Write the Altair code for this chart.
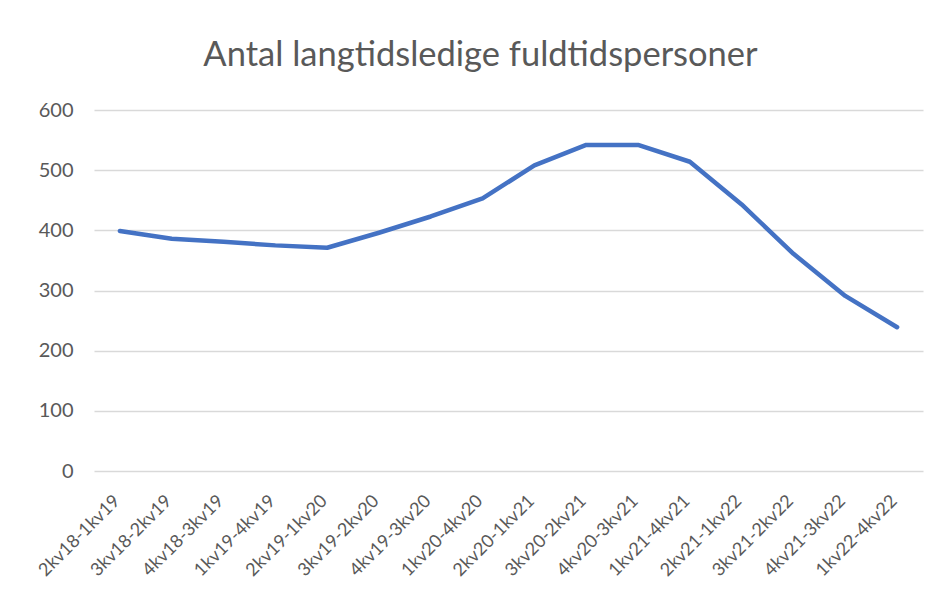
import altair as alt
import pandas as pd

periods = ["2kv18-1kv19", "3kv18-2kv19", "4kv18-3kv19", "1kv19-4kv19", "2kv19-1kv20",
           "3kv19-2kv20", "4kv19-3kv20", "1kv20-4kv20", "2kv20-1kv21", "3kv20-2kv21",
           "4kv20-3kv21", "1kv21-4kv21", "2kv21-1kv22", "3kv21-2kv22", "4kv21-3kv22",
           "1kv22-4kv22"]
values = [399, 386, 381, 375, 371, 396, 423, 453, 508, 542, 542, 514, 443, 361, 291, 239]

df = pd.DataFrame({"periode": periods, "antal": values})

FONT = "Lato"
GREY = "#595959"

chart = alt.Chart(df).mark_line(color="#4472C4", strokeWidth=4.5, strokeCap="round", strokeJoin="round").encode(
    x=alt.X("periode:N", sort=periods, title=None,
            scale=alt.Scale(type="point", padding=0.5),
            axis=alt.Axis(labelAngle=-45, labelAlign="right", labelBaseline="middle",
                          labelPadding=27, labelOffset=-3, ticks=False, domain=False, grid=False,
                          labelFontSize=18, labelColor=GREY, labelFont=FONT)),
    y=alt.Y("antal:Q", title=None,
            scale=alt.Scale(domain=[0, 600]),
            axis=alt.Axis(values=[0, 100, 200, 300, 400, 500, 600], ticks=False, domain=False,
                          gridColor="#d9d9d9", gridWidth=1.5, labelPadding=21,
                          labelFontSize=20, labelColor=GREY, labelFont=FONT)),
).properties(
    width=829, height=361,
    autosize=alt.AutoSizeParams(type="none"),
    padding={"left": 86, "top": 102, "right": 6, "bottom": 120},
    title=alt.TitleParams("Antal langtidsledige fuldtidspersoner", font=FONT, fontSize=34.5,
                          fontWeight="normal", color=GREY, anchor="middle", dx=-28, offset=27),
).configure_view(stroke=None)

chart.save("out.html", embed_options={"renderer": "svg", "actions": False})
